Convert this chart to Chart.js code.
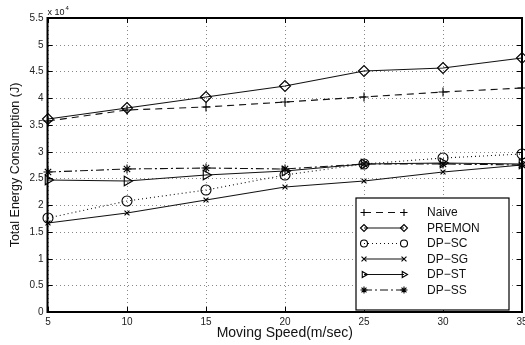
<!DOCTYPE html>
<html>
<head>
<meta charset="utf-8">
<script src="https://cdn.jsdelivr.net/npm/chart.js@4/dist/chart.umd.min.js"></script>
<style>
html,body{margin:0;padding:0;background:#fff;}
canvas{display:block;}
</style>
</head>
<body>
<canvas id="c" width="525" height="345"></canvas>
<script>
// ---- data (Total Energy Consumption in J) ----
const speeds = [5, 10, 15, 20, 25, 30, 35];
const naive  = [35800, 37700, 38300, 39200, 40300, 41200, 41900];
const premon = [36100, 38200, 40200, 42300, 45000, 45700, 47500];
const dpSC   = [17600, 20800, 22800, 25600, 27600, 28900, 29600];
const dpSG   = [16700, 18500, 21000, 23400, 24500, 26100, 27500];
const dpST   = [24700, 24500, 25600, 26300, 27600, 27800, 27700];
const dpSS   = [26100, 26800, 27000, 26800, 27700, 27700, 27500];
const seriesNames = ["Naive", "PREMON", "DP\u2212SC", "DP\u2212SG", "DP\u2212ST", "DP\u2212SS"];
const xTicks = [5, 10, 15, 20, 25, 30, 35];
const yTicks = [0, 5000, 10000, 15000, 20000, 25000, 30000, 35000, 40000, 45000, 50000, 55000];

const FONT = "'Liberation Sans', Arial, Helvetica, sans-serif";

function pts(arr) { return speeds.map((s, i) => ({ x: s, y: arr[i] })); }

const styles = [
  { style: 'cross',    radius: 4.5, dash: [7, 5],        rot: 0 },
  { style: 'rectRot',  radius: 5.5, dash: [],            rot: 0 },
  { style: 'circle',   radius: 5,   dash: [1, 3],        rot: 0 },
  { style: 'crossRot', radius: 3.5, dash: [],            rot: 0 },
  { style: 'triangle', radius: 5.5, dash: [],            rot: 90 },
  { style: 'star',     radius: 4.5, dash: [8, 3, 2, 3],  rot: 0 }
];
const allSeries = [naive, premon, dpSC, dpSG, dpST, dpSS];

const datasets = allSeries.map((arr, i) => ({
  label: seriesNames[i],
  data: pts(arr),
  borderColor: '#111',
  backgroundColor: 'rgba(0,0,0,0)',
  borderWidth: 1.1,
  borderDash: styles[i].dash,
  pointStyle: styles[i].style,
  pointRadius: styles[i].radius,
  pointRotation: styles[i].rot,
  pointBorderColor: '#000',
  pointBackgroundColor: 'rgba(0,0,0,0)',
  pointBorderWidth: 1.1,
  tension: 0,
  clip: false
}));

const framePlugin = {
  id: 'frame',
  beforeDatasetsDraw(chart) {
    const { ctx, chartArea: a, scales } = chart;
    ctx.save();
    ctx.strokeStyle = '#000';
    ctx.lineWidth = 1;
    ctx.setLineDash([]);
    // inward tick marks
    ctx.beginPath();
    yTicks.forEach(v => {
      const y = Math.round(scales.y.getPixelForValue(v)) + 0.5;
      ctx.moveTo(a.left, y); ctx.lineTo(a.left + 5, y);
      ctx.moveTo(a.right, y); ctx.lineTo(a.right - 5, y);
    });
    xTicks.forEach(v => {
      const x = Math.round(scales.x.getPixelForValue(v)) + 0.5;
      ctx.moveTo(x, a.bottom); ctx.lineTo(x, a.bottom - 5);
      ctx.moveTo(x, a.top); ctx.lineTo(x, a.top + 5);
    });
    ctx.stroke();
    ctx.lineWidth = 2;
    ctx.strokeRect(a.left, a.top, a.right - a.left, a.bottom - a.top);
    // exponent label
    ctx.fillStyle = '#111';
    ctx.font = '9px ' + FONT;
    ctx.textBaseline = 'alphabetic';
    ctx.textAlign = 'left';
    ctx.fillText('x 10', a.left, a.top - 3);
    const w = ctx.measureText('x 10').width;
    ctx.font = '6px ' + FONT;
    ctx.fillText('4', a.left + w + 1, a.top - 8);
    ctx.restore();
  }
};

const legendPlugin = {
  id: 'boxLegend',
  afterDatasetsDraw(chart) {
    const { ctx } = chart;
    const bx = 356, by = 198, bw = 153, bh = 112;
    ctx.save();
    ctx.fillStyle = '#fff';
    ctx.fillRect(bx, by, bw, bh);
    ctx.strokeStyle = '#000';
    ctx.lineWidth = 1.2;
    ctx.setLineDash([]);
    ctx.strokeRect(bx, by, bw, bh);
    chart.data.datasets.forEach((ds, i) => {
      const y = 212.5 + i * 15.5;
      const x1 = 364, x2 = 404;
      ctx.strokeStyle = '#111';
      ctx.lineWidth = 1.1;
      ctx.setLineDash(ds.borderDash || []);
      ctx.beginPath();
      ctx.moveTo(x1, y); ctx.lineTo(x2, y);
      ctx.stroke();
      ctx.setLineDash([]);
      const opts = { pointStyle: ds.pointStyle, radius: Math.min(ds.pointRadius, 3.5), rotation: ds.pointRotation, borderWidth: 1.1 };
      ctx.strokeStyle = '#000';
      ctx.fillStyle = 'rgba(0,0,0,0)';
      Chart.helpers.drawPoint(ctx, opts, x1, y);
      Chart.helpers.drawPoint(ctx, opts, x2, y);
      ctx.fillStyle = '#111';
      ctx.font = '12px ' + FONT;
      ctx.textAlign = 'left';
      ctx.textBaseline = 'middle';
      ctx.fillText(ds.label, 427, y + 0.5);
    });
    ctx.restore();
  }
};

new Chart(document.getElementById('c'), {
  type: 'line',
  data: { datasets },
  options: {
    responsive: false,
    devicePixelRatio: 1,
    animation: false,
    layout: { autoPadding: false, padding: { top: 18, right: 3, left: 0, bottom: 0 } },
    plugins: { legend: { display: false }, tooltip: { enabled: false } },
    scales: {
      x: {
        type: 'linear',
        min: 5, max: 35,
        alignToPixels: true,
        afterBuildTicks: s => { s.ticks = xTicks.map(v => ({ value: v })); },
        afterFit: s => { s.height = 33; s.paddingLeft = 0; s.paddingRight = 0; },
        ticks: { padding: 4, color: '#222', font: { family: FONT, size: 10 }, maxRotation: 0 },
        grid: { color: '#888', lineWidth: 1, drawTicks: false },
        border: { display: false, dash: [1, 3] },
        title: { display: true, text: 'Moving Speed(m/sec)', color: '#111', font: { family: FONT, size: 14 }, padding: { top: 0, bottom: 3 } }
      },
      y: {
        type: 'linear',
        min: 0, max: 55000,
        alignToPixels: true,
        afterBuildTicks: s => { s.ticks = yTicks.map(v => ({ value: v })); },
        afterFit: s => { s.width = 47.5; },
        ticks: { padding: 4, color: '#222', font: { family: FONT, size: 10 }, callback: v => String(v / 10000) },
        grid: { color: '#888', lineWidth: 1, drawTicks: false },
        border: { display: false, dash: [1, 3] },
        title: { display: true, text: 'Total Energy Consumption (J)', color: '#111', font: { family: FONT, size: 12.5 }, padding: { top: 8, bottom: 0 } }
      }
    }
  },
  plugins: [framePlugin, legendPlugin]
});
</script>
</body>
</html>
